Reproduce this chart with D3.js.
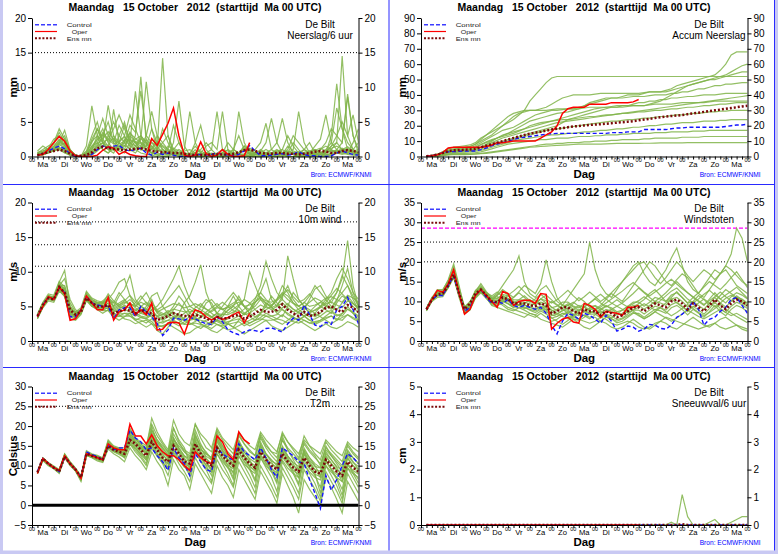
<!DOCTYPE html>
<html><head><meta charset="utf-8">
<script src="https://cdn.jsdelivr.net/npm/d3@7"></script>
<style>body{margin:0;background:#fff}svg{display:block}text{font-family:"Liberation Sans",Arial,Helvetica,sans-serif}</style>
</head><body><script>
// ---------------- DATA ----------------
// time axis: hours after start (6-hourly, 6..360)
const hours = d3.range(6, 361, 6);
const dayLabels = ["Ma","Di","Wo","Do","Vr","Za","Zo","Ma","Di","Wo","Do","Vr","Za","Zo","Ma"];
const titleText = "Maandag   15 October   2012  (starttijd  Ma 00 UTC)";

// --- Neerslag / 6 uur (mm)
const precipTicks = [0,5,10,15,20];
const precipControl = [.2,.4,.8,1.2, 1.5,1.1,.4,0, 0,0,.3,1.0, 1.5,1.3,1.5,1.6, 1.0,.8,1.0,1.2, .5,.2,.6,.3, .5,.2,0,0, .1,.2,.3,.2, .3,.5,.3,.2, .1,.3,.8,1.6, .8,.1,.1,.2, .3,.4,.2,.3, .7,.3,.1,.1, 0,0,.1,.5, .8,.5,.3,.2];
const precipOper = [.2,.3,1.0,2.0, 2.9,2.2,.8,.1, 0,0,0,.2, .9,1.4,1.2,.3, .7,.3,.1,0, 0,2.6,1.6,3.2, 4.8,7.0,3.0,.2, 0,.2,2.1,.4, 0,.2,1.0,.3, 0,0,.1,2.0];
const precipEnsMean = [.2,.4,.6,.8, 1.0,.8,.4,.1, .1,.2,.6,1.2, 1.4,1.2,1.1,1.0, .9,1.0,1.1,1.2, 1.0,.8,.7,.6, .6,.5,.5,.4, .3,.2,.2,.2, .3,.3,.3,.3, .4,.6,.9,1.0, .8,.5,.4,.4, .5,.5,.4,.4, .3,.4,.5,.7, .8,.7,.5,.5, .8,.9,.8,.6];
const precipMembers = [
 [.2,.5,1.0,1.5, 2.5,1.2,.3,0, 0,1.5,7.3,3.0, 1.0,.5,1.2,.8, .5,2.0,9.4,3.0, .8,.2,0,.5, 1.0,.3,0,0, 0,.2,.5,0, 0,0,.3,1.0, .5,0,0,.2, .3,1.0,.5,0, 0,.3,.5,2.0, 1.0,.2,0,0, 0,.5,3.0,10.5, 4.0,1.0,.5,.2],
 [.5,.8,1.2,1.8, 3.5,2.0,.5,0, 0,.5,2.0,4.0, 2.0,7.4,3.0,1.0, 2.5,1.5,3.0,11.5, 2.0,.5,1.0,14.2, 3.0,.5,0,0, .2,1.0,0,0, 0,.3,0,0, 0,.5,1.5,.3, 0,0,.2,.5, 1.0,.5,0,0, .3,1.0,.5,0, 0,.5,1.0,2.0, 14.5,3.0,1.0,.5],
 [.3,.4,.8,1.0, 2.0,3.8,1.0,.2, 0,.3,1.5,2.5, 4.0,2.0,1.0,3.0, 5.0,2.0,1.0,2.5, 10.8,4.0,1.0,.5, .2,2.0,8.0,1.5, .2,0,0,.5, 1.0,6.5,1.0,0, 0,0,0,.2, .5,.8,2.0,5.5, 2.0,.5,0,0, 0,0,.2,.5, 1.0,2.0,4.0,3.0, 2.0,8.6,3.0,1.0],
 [.3,.2,.6,1.0, 1.8,1.2,.3,0, .1,.8,3.0,5.0, 2.0,1.0,6.8,2.0, 1.0,3.5,2.0,1.0, 1.5,4.0,2.0,1.0, .5,.2,.5,1.0, 6.5,2.0,.5,0, 0,0,.5,2.0, 1.0,.5,0,0, 0,.2,.5,.3, 0,0,.5,1.0, 6.5,2.0,.5,0, 0,.2,.5,1.0, 2.0,9.0,3.0,.5],
 [.5,1.0,1.5,2.0, 4.0,2.5,1.0,.2, 0,0,.3,1.5, 3.0,5.0,2.0,4.5, 3.0,6.0,4.0,2.0, 1.0,.5,.2,0, 0,.5,1.0,.5, 0,0,.5,1.5, 2.0,1.0,6.5,1.0, 0,0,.3,.5, 1.0,2.0,4.8,1.0, .5,.2,0,0, .5,1.0,2.0,.5, 0,0,.2,.5, 1.0,.5,2.0,4.0],
 [.8,1.5,1.0,.8, 1.0,.5,.2,0, 0,.2,1.0,3.0, 5.5,3.0,2.0,1.0, 2.0,4.5,3.5,9.5, 3.0,2.0,1.0,4.0, 2.0,.5,0,0, 0,0,0,.3, .5,.3,0,0, 1.0,3.0,1.0,.3, 0,0,0,.2, .5,1.0,3.0,1.5, .5,.3,.5,1.0, .5,1.0,2.0,7.0, 4.0,2.0,1.0,.5],
 [.2,.3,.5,1.0, 2.2,3.0,.8,.1, 0,0,.2,.8, 1.5,3.0,5.0,3.0, 2.0,1.0,.5,1.5, 3.0,6.5,3.0,1.0, .5,1.0,2.0,.5, .2,0,0,0, 0,0,0,.5, 1.0,.5,.2,0, 0,0,.5,1.0, 2.0,5.5,2.0,.5, 0,0,0,.2, .3,.5,.8,.5, .3,.5,1.0,2.0],
 [.2,.4,.6,.9, 1.2,.8,.2,0, 0,.3,1.5,2.0, 3.5,2.5,4.0,6.0, 4.0,2.0,1.5,3.0, 2.0,1.0,3.0,2.0, 1.0,4.5,2.0,.5, 0,.5,1.0,2.0, 1.0,.2,0,0, 0,0,0,0, .2,.3,.2,0, 0,.5,1.0,3.0, 2.0,1.0,.5,.2, 0,.5,1.5,3.0, 5.0,3.0,6.0,2.0],
 [.3,.6,1.2,2.5, 3.0,1.5,.4,0, 0,.1,.5,1.2, 2.0,1.0,.5,2.0, 3.0,1.5,1.0,.5, .3,.2,1.0,2.0, 3.0,1.0,.5,.2, .2,2.0,4.5,1.0, .2,0,0,0, .5,6.5,2.0,.5, 0,0,0,.3, .5,.2,0,0, 0,.3,.5,.5, 1.0,1.5,1.0,.5, .5,1.0,.5,.3],
 [.3,.5,.8,1.3, 2.0,1.8,.5,.1, 0,.5,2.5,4.0, 2.5,1.5,3.0,2.0, 4.5,2.5,2.0,1.0, 2.5,1.5,.5,.3, 1.5,1.0,.3,0, 0,0,.3,.5, 0,0,0,0, 0,0,0,0, .3,.5,1.0,.5, .2,.5,.8,.5, .3,.2,.5,1.5, 2.5,6.0,2.0,1.0, .5,.3,.2,.2],
 [.4,.5,.6,.8, 1.5,2.0,.6,.1, 0,.2,.8,1.5, 2.0,1.5,1.0,1.5, 2.0,2.5,1.5,1.0, .8,.5,.3,.2, .2,.3,.5,.8, 1.0,.5,.2,0, 0,.2,.5,.3, .2,.5,1.0,.5, .3,.2,.3,.5, .8,1.0,.5,.3, .2,.3,.8,1.0, .5,.3,.2,.5, .8,1.0,.8,.5],
 [.6,.8,1.0,1.2, 1.0,.6,.2,0, 0,.4,1.0,2.0, 1.0,.5,1.5,1.0, 1.5,3.0,2.0,1.5, 1.0,2.0,1.5,.5, .3,.2,.2,.4, .5,1.5,.5,.2, .3,.5,1.0,.8, .3,.2,1.5,1.0, .5,.3,.2,.3, .5,.3,1.5,.8, .5,.2,.2,.3, .5,.8,1.5,2.0, 1.0,.5,.3,.2],
 [.3,.5,.9,1.4, 2.4,1.6,.5,.1, .1,.6,2.2,3.0, 2.0,2.5,1.8,2.2, 2.8,2.0,2.5,3.0, 2.0,1.2,.8,1.0, .6,.4,.2,.1, .2,.4,.3,.2, .4,.3,.6,.4, .2,.5,1.2,.8, .3,.4,.6,.5, .8,.6,.4,.3, .4,.6,.8,.5, .6,.8,1.2,1.5, 1.0,1.4,.8,.6],
 [.2,.3,.6,1.1, 1.8,2.6,.9,.2, 0,.3,1.2,2.4, 3.2,2.2,2.6,1.8, 2.2,3.4,2.6,2.0, 1.6,2.4,1.8,1.4, .8,.6,.4,.3, .1,.2,.4,.6, .3,.2,.1,.3, .6,.3,.2,.4, .6,.8,.4,.2, .3,.5,.7,.4, .2,.4,.6,.9, 1.2,.8,.6,.9, .7,.5,.8,1.0],
 [.4,.6,.7,.9, 1.3,.9,.3,0, 0,.2,.6,1.8, 2.6,3.6,2.4,1.4, 1.6,1.2,2.2,1.8, 1.4,1.0,2.2,1.6, 1.0,.7,.4,.2, .3,.6,.8,.4, .2,.4,.2,.1, .2,.6,.9,1.2, .8,.4,.3,.2, .4,.3,.2,.5, .7,.5,.3,.2, .4,.6,.9,.7, 1.2,.8,.5,.4],
 [.1,.3,.5,.8, 1.2,1.0,.4,.1, 0,.1,.4,.9, 1.6,1.2,.9,1.2, 1.0,.8,1.4,2.6, 1.8,1.4,1.0,.8, .6,1.2,.8,.4, .2,.1,.2,.4, .1,.2,.3,.2, .1,.2,.4,.9, .5,.2,.1,.2, .3,.2,.3,.6, .5,.3,.2,.4, .3,.2,.4,.6, .9,1.2,.7,.4]
];

// --- Accum Neerslag (mm)
const accumTicks = [0,10,20,30,40,50,60,70,80,90];
const accumControl = [.2,.5,1.2,2.5, 3,3.2,3.4,3.5, 3.5,3.6,4.5,5.5, 7,8,9,10, 11,12,12.5,13, 13.5,14,14.5,14.8, 15,15,15,15, 15,15,15,15, 15,15,15.5,15.5, 15.5,16,16,16, 17.5,17.5,17.5,17.5, 17.5,18,18.5,18.5, 19,19,19,19, 19,19,19,19.5, 20,20.5,20.5,21];
const accumOper = [.3,.5,1.2,2.5, 5.5,6,6,6, 6,6,6,6.5, 7.5,9,9,9.5, 10,10,10,10, 10,12,14,16, 20,28,31,32, 32,32,34,34, 34,34,35,35, 35,35,35.5,37];
const accumEnsMean = [.2,.5,1.2,2.2, 3.5,4,4.2,4.4, 4.6,5,6,7, 8,9,10,11, 12,13,14,14.8, 15.5,16,16.8,17.5, 18,18.5,19,19.5, 19.8,20.2,20.5,20.8, 21,21.3,21.6,22, 22.3,22.6,23,23.5, 24,24.5,25,25.5, 26,26.3,26.6,27, 27.5,28,28.5,29, 29.5,30,30.5,31, 31.5,32,32.5,33];
const accumMembers = [
 [.3,.8,1.5,3, 5,6,6.5,7, 7.5,9,12,14, 16,18,20,22, 24,27,30,36, 40,44,48,51, 52,52,52,52, 52,52,52,52, 52,52,52,52, 52,52,52,52, 52,52,52,52, 52,52,52,52, 52,52,52,52, 52,52,52,52, 52,52,52,52],
 [.2,.5,1,2, 3.5,4.5,5,5, 5.5,7,9,11, 13,15,17,18, 19,21,23,25, 27,28,29,30, 30,30.5,31,31, 32,33,34,35, 36,37,38,38, 39,40,40,40, 41,42,42,42, 43,44,46,47, 48,49,50,51, 52,53,56,60, 66,68,68,68],
 [.3,.6,1.2,2.5, 4,5,5.5,6, 6.5,8,10,12, 14,17,20,23, 26,28,29,30, 30,31,32,34, 36,38,39,40, 40,40,40,40.5, 41,41,41,41, 41,41,41,41, 41.5,42,42,42, 42,43,44,45, 46,47,48,49, 50,51,52,53, 55,57,59,60],
 [.2,.4,.8,1.5, 3,4,4.5,4.5, 5,6,8,9.5, 11,12,13.5,15, 17,19,21,23, 24,25,26,27, 28,28.5,29,30, 31,33,35,36, 37,38,38,38, 38,38.5,39,39, 39,39.5,40,40, 40,41,41,42, 42,43,44,44, 45,46,46,47, 47,47.5,48,48],
 [.2,.5,1,2, 3.5,4,4,4, 4.5,5,6,7, 8,9,10,11, 12,13,14,15, 16,17,18,19, 20,22,24,25, 26,27,28,29, 30,31,32,32, 33,33,34,35, 35,36,36,37, 37,38,38,38.5, 39,39,39.5,40, 40,40,40.5,41, 41,41,41,41],
 [.3,.8,1.5,3, 5,6,6,6, 6.5,8,11,14, 17,20,23,26, 28,29,30,30, 30,30,30,30.5, 31,31,31,31, 31,31.5,32,32, 32,32,32.5,33, 33,33,33,33, 33,33.5,34,34, 34,34,34.5,35, 35,35,35,35, 35.5,36,36,36, 36,36,36,36],
 [.1,.3,.6,1, 2,2.5,3,3, 3.2,4,5,6, 7,8,9,10, 11,12,13,14, 15,16,17,17.5, 18,18.5,19,19.5, 20,20.5,21,21.5, 22,22.5,23,23, 23.5,24,24,24.5, 25,25,25.5,26, 26,26.5,27,27, 27.5,28,28,28.5, 29,29,29.5,29.5, 30,30,30,30],
 [.2,.4,.8,1.5, 2.5,3,3,3, 3.2,3.5,4,5, 6,7,8,9, 10,11,11.5,12, 12.5,13,13.5,14, 14,14.5,15,15, 15.5,16,16,16.5, 17,17,17.5,18, 18,18.5,19,19, 19.5,20,20,20.5, 21,21,21.5,22, 22,22,22.5,23, 23,23,23.5,23.5, 24,24,24,24],
 [.1,.2,.5,1, 1.5,2,2,2, 2.2,2.5,3,4, 5,6,7,8, 8.5,9,9.5,10, 10.5,11,11,11.5, 12,12,12,12.5, 13,13,13,13.5, 13.5,14,14,14, 14.5,14.5,15,15, 15,15,15.5,15.5, 15.5,16,16,16, 16,16.5,16.5,16.5, 17,17,17,17, 17,17,17,17],
 [.1,.2,.4,.8, 1.2,1.5,1.5,1.5, 1.6,1.8,2,2.5, 3,3.5,4,4.5, 5,5.5,6,6.5, 7,7.5,8,8, 8.5,8.5,9,9, 9,9.5,9.5,10, 10,10,10.5,10.5, 11,11,11,11, 11.5,11.5,12,12, 12,12,12,12.5, 12.5,12.5,12.5,13, 13,13,13,13, 13,13,13,13],
 [.1,.2,.3,.5, 1,1.2,1.2,1.2, 1.3,1.5,1.8,2, 2.5,3,3.5,4, 4.5,5,5.5,6, 6.2,6.5,6.8,7, 7.2,7.4,7.6,7.8, 8,8,8,8, 8,8.2,8.4,8.5, 8.5,8.5,8.5,8.5, 8.6,8.6,8.7,8.8, 8.8,8.8,8.8,8.9, 9,9,9,9, 9,9,9,9, 9,9,9,9],
 [.2,.5,1,2, 3,3.5,4,4, 4.5,5,6,8, 10,12,14,15, 16,17,18,19, 20,21,22,23, 24,25,26,27, 28,29,30,31, 31.5,32,32,32, 32,32.5,33,33, 33,34,35,36, 38,40,42,44, 46,47,48,49, 50,50,51,52, 53,54,55,55],
 [.2,.4,.9,1.8, 3,3.6,3.8,3.8, 4,4.6,6,7.5, 9,10.5,12,13, 14,15,16,17, 18,19,20,21, 22,22.5,23,23.5, 24,24.5,25,25.5, 26,26.5,27,27.5, 28,28.5,29,29.5, 30,30.5,31,31.5, 32,32.5,33,33.5, 34,34.5,35,35.5, 36,36.5,37,37.5, 38,38.5,39,39.5],
 [.2,.5,1.1,2.2, 3.8,4.6,4.8,5, 5.2,6,7.5,9, 10.5,12,13,14, 15,16.5,18,20, 21,22,22.5,23, 23.5,24,24,24.5, 25,25.5,26,26, 26.5,27,27,27.5, 28,28,28.5,29, 29,29.5,30,30, 30.5,31,31,31.5, 32,32,32.5,33, 33,33.5,34,34, 34.5,35,35,35]
];

// --- 10m wind (m/s)
const windTicks = [0,5,10,15,20];
const windControl = [3.5,5.2,6.3,6.0, 7.7,7.0,3.5,3.5, 4.5,6.5,5.5,5.2, 5.0,5.0,3.2,4.5, 4.8,4.8,3.5,5.0, 4.2,3.5,2.5,0.8, 1.6,3.3,3.2,3.0, 3.4,3.2,2.8,2.5, 2.4,3.5,2.8,1.6, 1.2,0.9,1.3,1.6, 1.5,1.3,1.8,1.9, 1.6,1.3,2.5,3.3, 3.0,5.2,3.8,2.3, 2.1,2.7,2.4,4.5, 5.0,6.3,4.5,2.5];
const windOper = [3.5,5.0,6.4,6.0, 7.8,6.8,3.0,3.2, 4.5,6.5,5.5,4.5, 4.5,6.3,3.0,4.2, 4.5,5.5,3.8,4.5, 3.8,5.5,1.6,1.7, 2.6,2.7,2.6,1.0, 3.2,4.5,4.2,3.5, 3.0,3.5,3.1,3.4, 3.8,4.2,2.6,4.0];
const windEnsMean = [3.6,5.2,6.2,6.0, 7.8,7.0,4.5,3.8, 4.2,6.2,5.5,5.0, 5.0,5.2,4.0,4.3, 4.5,4.4,4.0,4.5, 4.2,4.0,3.0,3.3, 3.6,4.0,3.8,3.6, 3.6,3.8,3.5,3.3, 2.8,3.5,3.2,3.3, 3.6,3.8,3.2,3.5, 4.0,4.5,4.2,4.2, 4.5,5.3,4.5,4.0, 3.6,4.2,3.6,3.8, 4.2,4.8,5.0,4.5, 4.2,5.2,4.8,4.2];
const windMembers = [
 [3.3,5.0,6.5,6.3, 8.5,10.2,5.0,4.0, 4.5,6.8,5.8,5.5, 5.5,6.0,5.0,6.5, 7.5,9.5,6.0,5.0, 4.5,6.0,4.0,3.5, 4.0,5.0,6.5,5.5, 4.0,3.5,5.0,6.0, 5.5,4.0,3.5,4.5, 5.0,6.5,5.0,4.0, 5.5,7.0,9.0,6.0, 5.0,6.5,8.0,6.0, 5.0,4.5,6.0,7.5, 8.0,6.5,5.5,7.0, 9.0,14.5,8.0,5.0],
 [3.8,5.5,6.0,5.8, 7.5,6.5,3.5,3.2, 4.0,6.0,5.0,4.5, 4.0,4.5,3.5,3.0, 3.5,4.0,3.0,2.5, 2.0,2.5,1.5,1.0, 2.0,3.0,4.0,5.5, 6.5,8.5,11.0,7.0, 5.0,4.0,3.0,2.5, 2.0,3.0,4.0,3.5, 3.0,4.0,5.5,5.0, 4.0,3.5,5.0,7.0, 6.0,5.0,4.5,4.0, 3.5,3.0,2.5,3.0, 4.0,5.0,4.0,3.0],
 [3.5,5.2,6.3,6.0, 8.0,9.0,6.0,4.5, 4.0,6.5,5.5,5.2, 5.8,6.5,5.0,5.5, 6.0,5.0,4.5,4.0, 5.0,6.5,7.0,5.0, 4.0,3.5,3.0,2.5, 3.0,3.5,2.5,2.0, 2.5,3.0,4.0,5.0, 6.5,5.0,4.0,4.5, 6.0,8.0,11.5,9.0, 7.0,6.0,12.3,9.0, 6.0,5.0,4.0,3.5, 4.0,5.0,6.0,7.0, 9.5,8.0,6.0,4.5],
 [3.2,4.8,5.8,5.6, 7.2,6.5,3.2,3.0, 3.8,5.8,5.0,4.8, 4.5,4.8,4.0,3.8, 3.2,3.0,2.5,2.8, 3.0,2.5,2.0,2.2, 2.5,2.0,1.5,1.0, 1.2,1.8,2.2,2.0, 1.5,1.2,1.8,2.5, 2.0,1.5,1.0,1.5, 2.0,2.5,3.0,2.2, 1.8,1.5,2.0,2.5, 3.0,2.5,2.0,1.5, 2.0,2.5,2.0,1.8, 2.2,2.8,2.5,2.0],
 [3.6,5.3,6.6,6.2, 8.2,7.5,4.5,3.8, 4.5,7.0,6.0,5.5, 5.0,6.0,7.0,8.5, 9.0,6.5,5.0,6.0, 7.0,5.5,4.5,5.0, 6.0,7.0,8.0,6.5, 5.0,4.5,4.0,5.5, 6.0,5.0,4.5,5.0, 5.5,6.0,5.0,4.5, 5.0,6.0,5.5,5.0, 6.0,7.0,6.5,5.5, 5.0,5.5,6.5,8.0, 7.0,6.0,7.0,9.0, 10.5,9.0,7.0,6.0],
 [3.4,5.0,6.2,6.0, 7.6,7.0,4.0,3.5, 4.2,6.2,5.2,4.8, 4.8,5.5,4.5,4.0, 4.5,5.5,4.8,4.2, 3.8,4.5,3.5,3.0, 3.5,4.5,5.5,4.5, 3.5,3.0,3.5,4.0, 3.5,3.0,2.8,3.2, 4.0,5.0,6.0,5.5, 4.5,4.0,5.0,6.5, 5.5,4.5,4.0,3.5, 3.0,3.5,4.0,4.5, 5.0,4.5,4.0,5.5, 6.5,6.0,5.0,4.0],
 [3.7,5.4,6.4,6.1, 7.9,7.2,4.2,3.6, 4.6,6.6,5.6,5.0, 4.6,5.2,4.2,4.6, 5.2,4.6,3.8,3.4, 3.2,3.8,2.8,2.6, 3.0,2.6,2.2,2.8, 3.6,3.2,2.6,3.0, 3.4,2.8,2.4,2.6, 3.2,3.6,3.0,2.6, 3.0,3.4,4.0,3.6, 3.2,3.0,2.6,3.0, 3.4,3.0,2.6,2.4, 2.8,3.2,3.6,3.0, 3.4,3.8,3.2,2.8],
 [3.5,5.1,6.5,6.4, 8.1,8.0,5.5,4.2, 4.4,6.3,5.4,5.1, 5.3,5.8,5.5,7.0, 6.0,5.0,5.5,6.5, 5.5,4.5,5.0,6.0, 7.5,9.0,10.8,8.0, 6.0,5.0,4.5,4.0, 3.5,4.0,5.0,6.0, 7.0,6.0,5.0,4.0, 3.5,4.0,4.5,5.0, 6.0,8.0,7.0,5.5, 4.5,4.0,3.5,4.0, 5.0,6.0,5.0,4.5, 5.5,6.5,5.5,4.5],
 [3.3,5.0,6.1,5.9, 7.7,7.5,4.8,3.9, 4.1,6.1,5.3,4.9, 4.9,5.0,4.6,5.0, 5.4,6.0,5.2,4.6, 4.2,5.0,4.2,3.8, 4.4,3.8,3.4,4.0, 4.6,4.0,3.6,4.2, 4.8,5.4,4.6,4.0, 4.6,5.2,6.0,10.0, 8.0,6.0,5.0,4.5, 5.0,5.5,4.8,4.2, 4.6,5.0,5.6,6.2, 5.8,5.2,4.8,6.0, 7.0,8.0,6.5,5.0],
 [3.6,5.3,6.2,6.0, 7.8,6.8,4.2,3.4, 4.3,6.5,5.7,5.3, 5.1,4.6,3.8,3.6, 4.0,3.6,3.2,3.0, 2.6,3.2,2.4,2.0, 2.4,3.4,3.8,3.2, 2.6,2.2,1.8,2.4, 2.8,2.4,2.0,1.6, 1.8,2.2,2.6,2.2, 2.6,3.0,3.6,3.2, 2.8,2.4,3.0,3.6, 4.2,3.6,3.0,2.6, 3.0,3.6,4.2,3.6, 4.0,4.6,4.0,3.4],
 [3.9,5.6,6.8,6.6, 8.6,7.8,4.6,4.2, 4.8,7.2,6.2,5.8, 5.6,6.2,5.6,5.0, 4.6,4.2,4.0,3.6, 3.4,4.0,3.6,3.2, 3.8,4.2,3.6,3.0, 2.4,2.8,3.4,3.8, 4.4,5.0,5.6,5.0, 4.4,4.0,4.6,5.4, 6.2,7.0,6.0,5.2, 5.8,6.6,7.4,6.4, 5.6,6.0,6.8,5.8, 5.0,5.6,6.6,7.6, 6.8,6.0,5.4,4.8],
 [3.4,5.1,6.3,6.1, 7.5,6.9,3.9,3.3, 4.0,6.3,5.5,5.1, 5.4,6.8,5.8,5.2, 5.8,6.6,5.6,5.0, 5.6,5.0,4.4,4.0, 3.6,3.0,2.6,3.4, 4.0,4.8,5.4,4.6, 4.0,3.4,3.8,4.4, 5.0,4.4,3.8,4.6, 5.6,6.4,5.4,4.8, 4.2,4.8,5.4,4.6, 4.0,3.6,4.2,5.0, 5.6,5.0,4.6,5.8, 8.0,10.5,7.0,5.0],
 [3.5,5.3,6.5,6.2, 8.0,7.6,4.8,4.0, 4.4,6.4,5.6,5.4, 5.6,5.4,4.4,4.8, 5.0,4.8,4.4,5.0, 4.6,4.4,3.6,3.8, 4.2,4.6,4.4,4.2, 4.2,4.4,4.0,3.8, 3.4,4.0,3.8,3.8, 4.2,4.4,3.8,4.0, 4.6,5.2,4.8,4.8, 5.2,6.0,5.2,4.6, 4.2,4.8,4.2,4.4, 4.8,5.4,5.6,5.2, 4.8,5.8,5.4,4.8],
 [3.4,5.0,6.0,5.9, 7.4,6.6,4.2,3.6, 4.0,6.0,5.3,4.7, 4.5,4.8,3.6,3.9, 4.0,4.0,3.6,4.0, 3.7,3.5,2.5,2.8, 3.0,3.5,3.2,3.0, 3.0,3.2,3.0,2.8, 2.3,3.0,2.6,2.8, 3.0,3.2,2.6,3.0, 3.4,3.8,3.6,3.6, 3.8,4.6,3.8,3.4, 3.0,3.6,3.0,3.2, 3.6,4.2,4.4,3.8, 3.6,4.6,4.2,3.6],
 [3.7,5.5,6.4,6.3, 8.3,7.4,5.0,4.0, 4.6,6.8,6.0,5.6, 5.4,6.0,4.8,5.2, 5.6,5.4,5.0,5.6, 5.2,5.0,4.2,4.6, 5.0,5.4,5.2,4.8, 5.0,5.4,5.0,4.6, 4.2,4.8,4.6,4.8, 5.2,5.6,5.0,5.2, 5.6,6.2,5.8,5.6, 6.0,6.8,6.0,5.4, 5.0,5.6,5.0,5.2, 5.6,6.2,6.4,6.0, 5.6,6.6,6.2,5.6],
 [3.3,4.9,6.1,5.8, 7.3,6.4,3.8,3.4, 4.1,6.0,5.1,4.6, 4.4,4.4,3.4,3.6, 3.6,3.6,3.0,3.4, 3.2,2.8,2.0,2.2, 2.4,2.8,2.6,2.4, 2.4,2.6,2.4,2.2, 1.8,2.4,2.2,2.4, 2.6,2.8,2.2,2.6, 3.0,3.2,3.0,3.0, 3.2,3.8,3.2,2.8, 2.6,3.0,2.6,2.8, 3.0,3.4,3.6,3.2, 3.0,3.8,3.4,3.0]
];

// --- Windstoten (m/s)
const gustTicks = [0,5,10,15,20,25,30,35];
const gustControl = [8.0,10.5,11.5,11.5, 14.0,16.5,12.0,7.5, 8.5,11.5,13.0,11.0, 9.5,10.0,9.5,10.5, 9.0,8.5,9.0,8.5, 8.0,8.5,7.0,4.0, 1.8,5.0,7.0,6.5, 5.5,7.0,6.5,5.5, 4.5,6.5,5.0,2.5, 3.0,3.8,3.5,2.5, 3.0,4.2,4.0,3.2, 3.0,4.0,6.0,6.8, 8.0,10.0,8.0,4.0, 5.5,6.0,7.5,8.5, 10.5,11.0,9.0,7.0];
const gustOper = [8.0,10.5,12.8,12.3, 14.5,18.0,12.0,6.8, 8.0,11.5,13.0,11.5, 10.0,8.5,12.5,12.0, 9.0,10.0,10.3,10.3, 9.5,12.0,11.8,3.0, 4.5,5.5,6.0,4.8, 4.5,9.5,9.0,8.0, 6.0,7.5,7.2,7.0, 6.5,8.5,8.5,9.0];
const gustEnsMean = [8.0,10.5,11.8,12.0, 14.0,16.8,12.0,8.0, 9.5,12.0,13.0,11.5, 10.0,9.8,11.0,10.5, 9.5,9.5,9.5,9.0, 8.8,9.5,9.0,7.0, 7.5,8.5,8.5,7.5, 7.0,8.0,7.5,7.5, 6.5,7.5,7.0,6.0, 6.5,7.5,8.5,8.5, 7.5,8.5,9.5,9.0, 8.5,10.0,10.5,9.5, 8.0,9.5,8.5,7.5, 9.0,10.5,9.0,8.0, 9.5,10.5,10.0,9.0];
const gustMembers = [
 [8.2,10.8,12.5,12.8, 15.5,19.5,14.0,8.0, 9.0,12.5,14.5,12.5, 11.0,12.0,14.0,16.0, 18.0,21.5,15.0,12.0, 11.0,13.0,14.0,12.0, 10.0,9.0,11.0,13.0, 15.0,17.0,25.0,18.0, 14.0,12.0,11.0,13.0, 15.0,17.0,19.0,20.0, 17.0,15.0,14.0,16.0, 18.0,21.0,23.5,19.0, 15.0,13.0,12.0,14.0, 16.0,18.0,17.0,19.0, 22.0,28.5,26.0,20.0],
 [7.8,10.2,11.8,11.8, 14.0,17.0,11.5,7.0, 8.0,11.0,12.5,11.0, 9.0,8.5,8.0,7.5, 7.0,6.5,6.0,7.0, 6.5,5.5,5.0,4.5, 4.0,3.5,4.5,5.5, 4.5,3.5,3.0,4.0, 5.0,4.5,3.5,3.0, 3.5,4.5,5.5,4.5, 3.5,3.0,4.0,5.0, 4.5,3.5,3.0,4.0, 5.0,6.0,5.0,4.0, 3.5,4.5,5.5,6.0, 5.0,4.0,3.5,3.0],
 [8.0,10.6,12.0,12.4, 14.8,18.0,13.0,7.5, 8.6,12.0,13.5,11.8, 10.5,11.5,13.0,12.0, 11.0,12.5,14.0,13.0, 12.0,14.5,20.5,15.0, 11.0,9.0,8.0,9.5, 11.0,10.0,8.5,8.0, 9.0,10.5,12.0,11.0, 10.0,12.0,14.0,16.0, 18.0,20.0,19.0,17.0, 15.0,14.0,15.5,17.0, 16.0,14.0,12.0,11.0, 13.0,15.0,17.0,18.0, 16.0,14.0,13.0,12.0],
 [8.4,11.0,12.2,12.0, 14.2,16.5,12.5,8.5, 9.2,12.2,13.2,11.2, 10.0,9.5,10.5,11.5, 10.0,9.0,9.5,10.5, 9.0,8.0,9.0,10.0, 9.0,8.0,7.0,8.0, 9.0,8.5,7.5,7.0, 8.0,9.0,8.0,7.0, 6.5,7.5,8.5,9.5, 10.5,12.0,13.0,11.5, 10.0,11.0,12.5,11.0, 9.5,10.0,11.5,10.5, 9.0,10.0,11.5,13.0, 12.0,11.0,10.0,9.0],
 [7.6,10.0,11.0,11.2, 13.5,16.0,11.0,6.8, 7.8,10.8,12.2,10.8, 9.5,9.0,9.5,8.5, 8.0,7.5,7.0,6.5, 6.0,7.0,6.0,5.0, 5.5,6.5,7.5,6.5, 5.5,5.0,4.5,5.0, 6.0,5.5,4.5,4.0, 4.5,5.0,4.5,3.5, 3.0,3.5,4.5,5.0, 6.0,5.5,5.0,4.5, 4.0,3.5,3.0,3.5, 4.0,4.5,3.5,3.0, 3.5,4.0,3.0,2.5],
 [8.1,10.4,12.2,12.2, 14.4,17.5,12.8,8.2, 8.8,11.8,13.3,11.6, 10.4,10.8,11.6,10.6, 9.6,10.4,11.4,10.2, 9.4,10.6,9.6,8.6, 7.6,8.4,9.4,8.6, 7.8,8.6,9.6,10.6, 9.6,8.6,9.4,10.4, 9.4,8.6,9.4,10.2, 11.2,10.2,9.2,10.2, 11.4,12.6,13.4,12.0, 10.6,9.6,10.6,11.8, 12.8,11.6,10.6,11.6, 12.6,13.6,12.2,10.8],
 [7.9,10.3,11.4,11.6, 13.8,16.8,11.8,7.2, 8.2,11.2,12.8,11.4, 10.2,10.0,9.0,8.0, 7.6,8.4,7.8,7.0, 6.6,7.6,6.8,5.8, 5.0,4.2,5.2,6.2, 7.2,6.4,5.6,6.6, 7.6,6.6,5.8,6.8, 7.8,8.8,7.6,6.6, 5.6,6.4,7.4,8.4, 7.4,6.4,7.2,8.2, 9.2,8.2,7.2,6.4, 7.2,8.2,9.2,8.0, 7.0,6.2,5.4,4.6],
 [8.3,10.9,13.0,13.0, 15.2,18.8,13.5,8.6, 9.6,12.8,14.0,12.2, 11.4,12.4,11.2,10.2, 11.0,12.2,11.0,9.8, 10.6,11.8,10.6,9.6, 10.4,11.6,12.8,11.4, 10.2,11.2,12.4,11.2, 10.0,11.0,12.2,13.6, 15.0,16.5,18.0,19.5, 20.0,18.0,16.0,14.5, 16.0,18.0,20.0,18.5, 16.5,15.0,16.5,18.0, 17.0,15.5,17.0,19.0, 18.0,16.5,15.0,14.0],
 [7.7,10.1,11.6,11.9, 14.1,17.2,12.2,7.8, 8.4,11.4,12.6,11.0, 9.8,9.6,10.2,9.4, 8.6,9.2,8.6,7.8, 7.2,8.0,7.4,6.6, 6.2,7.0,6.4,5.6, 5.2,6.0,7.0,7.8, 7.0,6.2,5.6,5.0, 5.6,6.4,7.2,6.4, 5.6,6.4,7.4,6.6, 5.8,5.0,5.8,6.8, 7.8,7.0,6.2,5.6, 6.4,7.2,8.0,7.2, 6.4,7.0,6.2,5.4],
 [8.0,10.5,12.4,12.0, 14.6,17.8,12.6,8.0, 8.9,12.0,13.4,11.4, 10.6,11.2,10.4,9.4, 9.0,9.8,9.2,8.4, 8.0,8.6,8.0,7.2, 6.8,7.6,8.4,7.6, 6.8,7.4,8.2,9.0, 8.2,7.4,8.0,8.8, 8.0,7.2,7.8,8.6, 9.4,8.6,7.8,8.6, 9.6,10.6,9.6,8.6, 7.8,8.6,9.6,10.6, 9.6,8.6,9.6,10.8, 11.6,10.6,9.6,8.8],
 [8.2,10.7,11.9,12.1, 14.3,17.0,12.4,8.4, 9.4,12.4,13.6,12.0, 10.8,11.6,12.6,11.6, 12.6,13.8,12.4,11.2, 10.2,9.4,8.6,7.8, 7.0,6.2,5.6,6.6, 7.6,8.6,9.6,10.8, 11.8,10.6,9.6,8.8, 9.6,10.8,12.0,13.4, 12.2,11.0,10.0,11.0, 12.2,13.6,15.0,13.6, 12.2,11.0,12.2,13.6, 15.0,14.0,13.0,14.4, 16.0,17.5,15.5,13.5],
 [7.9,10.4,11.7,11.8, 14.0,16.4,11.6,7.4, 8.3,11.3,12.9,11.3, 10.1,10.3,9.8,10.6, 9.8,9.0,8.2,8.8, 9.6,10.6,11.6,10.4, 9.2,8.2,9.0,9.8, 8.8,7.8,7.0,7.8, 8.6,9.6,10.6,11.6, 12.6,13.8,14.8,13.6, 12.4,11.4,12.4,13.4, 14.6,15.6,14.4,13.2, 12.2,11.2,10.2,9.2, 10.2,11.2,12.4,11.2, 10.2,11.4,10.4,9.4],
 [8.1,10.6,12.0,12.1, 14.2,17.0,12.2,8.2, 9.6,12.2,13.2,11.8, 10.4,10.2,11.2,10.8, 9.8,9.8,9.8,9.4, 9.2,9.8,9.4,7.6, 8.0,9.0,9.0,8.0, 7.6,8.6,8.0,8.0, 7.0,8.0,7.6,6.6, 7.0,8.0,9.0,9.0, 8.0,9.0,10.0,9.6, 9.0,10.6,11.0,10.0, 8.6,10.0,9.0,8.0, 9.6,11.0,9.6,8.6, 10.0,11.0,10.6,9.6],
 [7.9,10.3,11.6,11.8, 13.8,16.6,11.8,7.8, 9.2,11.8,12.8,11.2, 9.6,9.4,10.6,10.0, 9.0,9.0,9.0,8.6, 8.2,8.8,8.4,6.4, 6.8,7.8,7.8,6.8, 6.4,7.4,6.8,6.8, 5.8,6.8,6.4,5.4, 5.8,6.8,7.8,7.8, 6.8,7.8,8.8,8.4, 7.8,9.2,9.8,8.8, 7.4,8.8,7.8,6.8, 8.2,9.8,8.2,7.2, 8.8,9.8,9.2,8.2],
 [8.2,10.8,12.2,12.4, 14.6,17.4,12.6,8.6, 10.0,12.6,13.6,12.2, 10.8,10.6,11.8,11.4, 10.4,10.4,10.4,10.0, 9.8,10.6,10.2,8.4, 8.8,9.8,9.8,8.8, 8.4,9.4,8.8,8.8, 7.8,8.8,8.4,7.4, 7.8,8.8,9.8,9.8, 8.8,9.8,11.0,10.6, 10.0,11.6,12.2,11.0, 9.6,11.0,10.0,9.0, 10.6,12.2,10.6,9.6, 11.2,12.2,11.6,10.6],
 [7.8,10.2,11.4,11.5, 13.5,16.2,11.5,7.5, 8.8,11.4,12.4,10.8, 9.2,9.0,10.0,9.4, 8.4,8.4,8.4,8.0, 7.6,8.2,7.8,5.8, 6.2,7.0,7.0,6.0, 5.6,6.6,6.0,6.0, 5.0,6.0,5.6,4.6, 5.0,6.0,7.0,7.0, 6.0,7.0,8.0,7.6, 7.0,8.4,9.0,8.0, 6.6,8.0,7.0,6.0, 7.4,9.0,7.4,6.4, 8.0,9.0,8.4,7.4]
];

// --- T2m (Celsius)
const t2mTicks = [-5,0,5,10,15,20,25,30];
const t2mControl = [8.5,11.8,10.5,9.5, 8.5,12.3,10.5,9.0, 7.0,13.5,12.8,12.3, 11.5,15.0,14.0,14.5, 14.5,19.0,17.0,16.0, 14.0,14.5,12.5,11.0, 8.8,14.5,12.0,10.5, 7.5,13.0,11.0,9.0, 8.5,14.5,13.0,12.0, 11.5,15.5,13.5,12.5, 11.5,14.5,12.0,9.0, 7.0,14.5,13.5,12.5, 11.0,10.5,6.5,3.0, -0.8,7.5,3.8,6.5, 10.0,13.0,12.0,10.5];
const t2mOper = [8.0,11.8,10.5,9.5, 8.8,12.5,10.5,9.0, 6.8,13.0,12.5,12.0, 11.5,15.5,14.5,14.0, 14.0,20.5,17.5,17.5, 15.5,17.8,15.0,13.5, 12.5,12.5,11.5,10.0, 8.8,13.5,12.0,11.0, 10.5,17.5,16.0,13.0, 11.5,18.5,16.5,15.5];
const t2mEnsMean = [8.3,11.8,10.5,9.5, 8.5,12.3,10.5,9.0, 7.0,13.0,12.5,12.0, 11.5,15.0,14.0,13.5, 13.0,16.5,15.5,14.0, 12.5,16.0,14.0,12.0, 11.0,15.0,13.0,11.0, 10.5,15.5,13.0,11.0, 10.0,14.5,12.5,11.0, 10.0,14.0,12.0,10.5, 9.5,13.5,11.5,10.0, 9.0,13.0,11.0,9.5, 8.5,12.0,10.0,8.5, 8.0,11.5,10.0,8.5, 7.5,11.0,9.5,8.5];
const t2mMembers = [
 [8.2,11.5,10.3,9.6, 8.6,12.8,10.8,9.2, 7.2,13.5,12.8,12.4, 11.8,16.0,14.8,14.2, 13.5,18.0,16.5,15.5, 14.5,22.0,18.5,16.0, 14.0,21.5,18.0,16.0, 15.0,20.5,18.0,16.5, 14.5,19.5,17.0,15.5, 14.0,18.5,16.5,15.0, 14.0,18.5,16.5,15.0, 13.5,18.0,16.0,14.5, 13.0,16.5,15.0,14.0, 13.0,16.5,15.0,13.5, 12.5,16.0,14.5,13.5],
 [8.0,11.3,10.0,9.2, 8.0,12.0,10.0,8.6, 6.0,12.6,12.0,11.2, 10.8,14.2,13.0,12.2, 11.0,14.5,12.5,11.0, 9.0,13.5,11.0,9.0, 5.0,11.5,9.0,7.5, 4.0,10.5,8.0,5.5, 3.0,10.0,7.0,5.0, 2.0,9.0,6.5,4.0, 1.5,8.5,6.0,3.5, 0.5,8.0,5.0,2.0, -2.0,6.5,4.0,2.0, 0.0,7.0,4.5,1.5, -2.0,6.0,3.5,1.0],
 [8.4,11.9,10.6,9.8, 8.8,12.6,10.6,9.0, 6.8,13.2,12.6,12.0, 11.2,15.5,14.2,13.8, 13.0,19.5,17.0,15.0, 13.5,20.0,16.0,14.0, 12.0,17.0,14.5,12.5, 11.0,19.0,15.5,13.0, 12.0,18.5,15.0,12.5, 10.0,15.0,12.5,11.0, 9.0,16.0,13.0,11.5, 10.0,17.5,14.0,11.5, 9.0,14.0,12.0,10.5, 9.5,15.0,12.5,10.5, 8.5,14.0,12.0,10.5],
 [8.1,11.6,10.4,9.4, 8.4,12.2,10.4,8.8, 6.6,12.8,12.2,11.8, 11.4,15.0,14.0,13.4, 12.5,17.0,15.0,13.5, 11.5,17.5,14.5,12.0, 9.5,15.5,13.0,11.0, 8.0,14.5,12.0,10.0, 7.5,14.0,11.5,9.5, 6.5,13.5,11.0,9.0, 6.0,12.5,10.5,8.5, 5.5,13.0,10.5,8.0, 5.0,12.0,9.5,7.5, 4.5,11.5,9.0,7.0, 4.0,10.5,8.5,6.5],
 [8.3,11.7,10.5,9.5, 8.7,12.4,10.6,9.1, 7.0,13.1,12.5,12.1, 11.6,15.4,14.4,14.0, 13.8,18.5,16.0,14.5, 13.0,19.0,16.5,14.5, 12.5,19.5,16.0,13.5, 12.0,17.5,15.0,13.5, 11.5,17.0,14.5,12.5, 11.0,16.0,14.0,12.5, 11.5,17.0,14.5,12.5, 11.0,16.5,14.0,12.0, 10.5,15.5,13.5,12.0, 10.5,14.5,13.0,11.5, 10.0,15.0,13.0,11.5],
 [8.0,11.4,10.2,9.3, 8.2,12.1,10.2,8.7, 6.3,12.9,12.1,11.5, 11.0,14.6,13.5,12.8, 12.0,15.5,13.5,12.0, 10.0,15.0,12.5,10.5, 7.5,13.0,10.5,8.5, 6.0,12.0,9.5,7.5, 5.5,11.5,9.0,7.0, 4.5,11.0,8.5,6.0, 3.0,10.0,7.5,5.0, 2.0,9.5,7.0,4.5, 1.5,9.0,6.5,4.0, 1.0,8.5,6.0,3.5, 0.5,8.0,5.5,3.0],
 [8.5,12.0,10.8,9.9, 9.0,13.0,11.0,9.4, 7.4,13.8,13.0,12.6, 12.0,16.5,15.0,14.5, 14.5,19.0,17.0,16.0, 15.0,20.5,17.5,15.5, 13.5,18.0,15.5,14.0, 13.0,20.5,17.0,14.5, 13.5,19.0,16.5,14.5, 13.0,17.5,15.5,14.0, 12.5,17.5,15.0,13.5, 13.0,18.5,16.0,14.0, 12.0,17.5,15.0,13.0, 11.5,16.0,14.0,12.5, 11.0,15.5,13.5,12.0],
 [8.2,11.8,10.4,9.6, 8.5,12.5,10.5,9.0, 6.9,13.0,12.4,12.0, 11.5,15.2,14.2,13.6, 13.0,16.5,14.5,13.0, 12.0,16.5,14.0,12.0, 10.5,17.0,14.0,12.0, 9.5,15.5,13.0,11.0, 9.0,16.5,13.5,11.0, 8.0,14.5,12.0,10.0, 8.5,14.0,11.5,9.5, 7.5,14.5,12.0,9.5, 7.0,13.0,11.0,9.0, 7.0,12.5,10.5,8.5, 6.0,12.0,10.0,8.0],
 [8.1,11.6,10.2,9.4, 8.3,12.3,10.3,8.8, 6.5,12.7,12.3,11.9, 11.3,14.8,13.8,13.2, 12.8,17.5,15.5,14.0, 13.0,18.5,15.5,13.0, 11.0,16.0,13.5,11.5, 9.0,16.5,13.5,11.0, 8.5,15.0,12.5,10.0, 7.0,16.0,12.5,9.5, 6.5,15.0,12.0,9.0, 6.0,14.0,11.0,8.5, 5.5,13.5,10.5,8.0, 3.0,11.5,9.0,6.5, 2.5,10.5,8.0,5.5],
 [8.4,11.9,10.7,9.7, 8.9,12.9,10.9,9.3, 7.1,13.3,12.7,12.3, 11.9,16.2,14.6,14.4, 14.0,18.8,16.8,15.5, 14.0,17.5,16.0,14.5, 13.0,16.5,15.0,13.5, 12.5,15.5,14.0,13.0, 12.0,17.5,15.0,13.5, 12.0,18.0,15.5,13.5, 12.5,18.0,15.5,13.5, 12.0,16.5,14.5,13.0, 11.5,16.0,14.0,12.5, 10.0,14.0,12.5,11.0, 9.5,13.5,12.0,10.5],
 [8.2,11.7,10.3,9.5, 8.5,12.4,10.5,9.0, 6.7,13.0,12.3,11.8, 11.4,15.3,14.0,13.5, 12.0,16.0,14.0,12.5, 10.5,16.0,13.0,11.0, 9.0,14.0,11.5,10.0, 7.5,13.5,11.0,9.0, 6.0,13.0,10.5,8.0, 5.0,12.5,10.0,7.5, 4.5,12.0,9.5,7.0, 3.5,11.0,8.5,6.0, 3.0,10.5,8.0,5.5, 2.0,10.0,7.5,5.0, 1.5,9.5,7.0,4.5],
 [8.3,11.8,10.5,9.6, 8.7,12.7,10.7,9.2, 7.0,13.4,12.6,12.2, 11.7,15.8,14.6,14.0, 13.5,17.5,16.0,15.0, 14.0,19.0,16.5,15.0, 13.5,19.5,16.5,14.5, 10.5,18.0,14.5,12.0, 10.0,17.0,14.0,11.5, 9.5,16.5,13.5,11.5, 9.0,15.5,13.0,11.0, 8.5,15.0,12.5,10.5, 8.0,14.5,12.0,10.0, 7.5,13.5,11.5,9.5, 7.0,13.0,11.0,9.0],
 [8.3,11.8,10.5,9.5, 8.6,12.4,10.6,9.1, 7.0,13.1,12.5,12.0, 11.6,15.2,14.2,13.6, 13.2,17.0,15.8,14.4, 13.0,16.8,14.6,12.6, 11.6,15.8,13.6,11.6, 11.0,16.2,13.6,11.6, 10.6,15.2,13.0,11.6, 10.6,14.8,12.6,11.0, 10.0,14.2,12.0,10.5, 9.6,13.8,11.6,10.0, 9.0,12.8,10.6,9.0, 8.6,12.2,10.6,9.0, 8.0,11.8,10.0,9.0],
 [8.2,11.7,10.4,9.4, 8.4,12.1,10.3,8.8, 6.8,12.8,12.3,11.8, 11.4,14.8,13.8,13.3, 12.6,16.0,15.0,13.5, 12.0,15.2,13.2,11.4, 10.4,14.2,12.2,10.4, 9.8,14.8,12.2,10.2, 9.2,13.8,11.8,10.2, 9.2,13.2,11.2,9.8, 8.8,12.8,10.8,9.2, 8.2,12.2,10.2,8.8, 7.8,11.2,9.2,7.8, 7.2,10.8,9.2,7.8, 6.8,10.2,8.8,7.8],
 [8.4,11.9,10.6,9.6, 8.7,12.5,10.7,9.2, 7.2,13.3,12.7,12.2, 11.7,15.4,14.4,13.8, 13.6,17.6,16.2,14.8, 13.4,17.4,15.2,13.2, 12.2,16.6,14.4,12.4, 11.8,17.0,14.4,12.4, 11.4,16.0,13.8,12.2, 11.4,15.6,13.4,11.8, 10.8,15.0,12.8,11.2, 10.4,14.6,12.4,10.8, 9.8,13.6,11.4,9.8, 9.4,13.0,11.4,9.8, 8.8,12.6,10.8,9.8],
 [8.1,11.6,10.3,9.3, 8.3,12.0,10.2,8.7, 6.6,12.6,12.1,11.6, 11.2,14.6,13.6,13.0, 12.2,15.4,14.4,12.8, 11.4,14.4,12.4,10.6, 9.6,13.4,11.4,9.6, 9.0,14.0,11.4,9.4, 8.4,13.0,11.0,9.4, 8.4,12.4,10.4,9.0, 8.0,12.0,10.0,8.4, 7.4,11.4,9.4,8.0, 7.0,10.4,8.4,7.0, 6.4,10.0,8.4,7.0, 6.0,9.4,8.0,7.0]
];

// --- Sneeuwval / 6 uur (cm)
const snowTicks = [0,1,2,3,4,5];
const snowControl = [0,0,0,0, 0,0,0,0, 0,0,0,0, 0,0,0,0, 0,0,0,0, 0,0,0,0, 0,0,0,0, 0,0,0,0, 0,0,0,0, 0,0,0,0, 0,0,0,0, 0,0,0,0, 0,0,0,0, 0,0,0,0, 0,0,0,0];
const snowOper = [0,0,0,0, 0,0,0,0, 0,0,0,0, 0,0,0,0, 0,0,0,0, 0,0,0,0, 0,0,0,0, 0,0,0,0, 0,0,0,0, 0,0,0,0];
const snowEnsMean = [0,0,0,0, 0,0,0,0, 0,0,0,0, 0,0,0,0, 0,0,0,0, 0,0,0,0, 0,0,0,0, 0,0,0,0, 0,0,0,0, 0,0,0,0, 0,0,0,0, 0,0,0,.03, 0,0,0,0, 0,0,0,0, 0,0,0,0];
const snowMembers = [
 [0,0,0,0, 0,0,0,0, 0,0,0,0, 0,0,0,0, 0,0,0,0, 0,0,0,0, 0,0,0,0, 0,0,0,0, 0,0,0,0, 0,0,0,0, 0,0,0,0, 0,.1,0,1.1, .3,0,0,0, 0,0,0,0, 0,0,0,0],
 [0,0,0,0, 0,0,0,0, 0,0,0,0, 0,0,0,0, 0,0,0,0, 0,0,0,0, 0,0,0,0, 0,0,0,0, 0,0,0,0, 0,0,0,0, 0,0,0,0, 0,0,0,0, 0,0,0,0, .1,.2,0,0, .1,.2,.3,.3],
 [0,0,0,0, 0,0,0,0, 0,0,0,0, 0,0,0,0, 0,0,0,0, 0,0,0,0, 0,0,0,0, 0,0,0,0, 0,0,0,0, 0,0,0,0, 0,0,0,0, 0,0,0,0, 0,0,0,0, 0,0,0,0, 0,0,0,0]
];

// ---------------- DRAWING ----------------
const W = 778, H = 554;
const svg = d3.select("body").append("svg").attr("width", W).attr("height", H);
svg.append("rect").attr("width", W).attr("height", H).attr("fill", "#fff");

const colX = [0, 389], rowY = [0, 184.5, 368.5];
const GREEN = "#80b449";
const FONT = '"Liberation Sans",Arial,Helvetica,sans-serif';

const panels = [
  {col:0,row:0,dom:[0,20],ticks:precipTicks,ylab:"mm",sub:"Neerslag/6 uur",mem:precipMembers,ctl:precipControl,op:precipOper,em:precipEnsMean,refs:[{v:15,t:"dot"}]},
  {col:1,row:0,dom:[0,90],ticks:accumTicks,ylab:"mm",sub:"Accum Neerslag",mem:accumMembers,ctl:accumControl,op:accumOper,em:accumEnsMean,refs:[]},
  {col:0,row:1,dom:[0,20],ticks:windTicks,ylab:"m/s",sub:"10m wind",mem:windMembers,ctl:windControl,op:windOper,em:windEnsMean,refs:[{v:10.8,t:"dot"},{v:13.9,t:"dot"},{v:17.2,t:"dot"}]},
  {col:1,row:1,dom:[0,35],ticks:gustTicks,ylab:"m/s",sub:"Windstoten",mem:gustMembers,ctl:gustControl,op:gustOper,em:gustEnsMean,refs:[{v:20,t:"dot"},{v:25,t:"dot"},{v:28.5,t:"mag"}]},
  {col:0,row:2,dom:[-5,30],ticks:t2mTicks,ylab:"Celsius",sub:"T2m",mem:t2mMembers,ctl:t2mControl,op:t2mOper,em:t2mEnsMean,refs:[{v:25,t:"dot"},{v:0,t:"thick"}]},
  {col:1,row:2,dom:[0,5],ticks:snowTicks,ylab:"cm",sub:"Sneeuwval/6 uur",mem:snowMembers,ctl:snowControl,op:snowOper,em:snowEnsMean,refs:[]}
];

panels.forEach((p, pi) => {
  const ox = colX[p.col], oy = rowY[p.row];
  const L = ox + 32, R = ox + 358.5, T = oy + 18, B = oy + 156.5;
  const x = d3.scaleLinear().domain([0, 360]).range([L, R]);
  const y = d3.scaleLinear().domain(p.dom).range([B, T]);
  const g = svg.append("g");

  // title
  g.append("text").attr("x", ox + 195).attr("y", oy + 11)
    .attr("text-anchor", "middle").attr("font-size", 10.5).attr("font-weight", "bold")
    .attr("textLength", 253).attr("lengthAdjust", "spacing")
    .style("white-space", "pre").text(titleText);

  // clip
  const cid = "clip" + pi;
  svg.append("clipPath").attr("id", cid).append("rect")
    .attr("x", L).attr("y", T - 1).attr("width", R - L).attr("height", B - T + 1.5);

  const plot = g.append("g").attr("clip-path", `url(#${cid})`);

  // reference lines
  p.refs.forEach(r => {
    const ln = plot.append("line").attr("x1", L).attr("x2", R).attr("y1", y(r.v)).attr("y2", y(r.v));
    if (r.t === "dot") ln.attr("stroke", "#000").attr("stroke-width", 1).attr("stroke-dasharray", "1,2");
    else if (r.t === "mag") ln.attr("stroke", "#ff00ff").attr("stroke-width", 1.2).attr("stroke-dasharray", "4,2");
  });

  const line = d3.line().x((d, i) => x(hours[i])).y(d => y(d));

  // members
  p.mem.forEach(m => {
    plot.append("path").attr("d", line(m)).attr("fill", "none")
      .attr("stroke", GREEN).attr("stroke-width", 1.2).attr("stroke-opacity", 0.85);
  });

  // thick zero line (T2m)
  p.refs.filter(r => r.t === "thick").forEach(r => {
    plot.append("line").attr("x1", L).attr("x2", R).attr("y1", y(r.v)).attr("y2", y(r.v))
      .attr("stroke", "#000").attr("stroke-width", 3);
  });

  // control, oper, ens mean
  plot.append("path").attr("d", line(p.ctl)).attr("fill", "none")
    .attr("stroke", "#1414ff").attr("stroke-width", 1.4).attr("stroke-dasharray", "4,2.5");
  plot.append("path").attr("d", line(p.op)).attr("fill", "none")
    .attr("stroke", "#ff0000").attr("stroke-width", 1.5);
  plot.append("path").attr("d", line(p.em)).attr("fill", "none")
    .attr("stroke", "#7a0a0a").attr("stroke-width", 2.5).attr("stroke-dasharray", "2,2");

  // axes
  const fmt = d3.format("d");
  const axL = d3.axisLeft(y).tickValues(p.ticks).tickFormat(fmt).tickSize(4).tickSizeOuter(0).tickPadding(2);
  const axR = d3.axisRight(y).tickValues(p.ticks).tickFormat(fmt).tickSize(4).tickSizeOuter(0).tickPadding(2);
  const axB = d3.axisBottom(x).tickValues(d3.range(0, 361, 6)).tickSize(3).tickSizeOuter(0).tickFormat("");
  [[axL, L, 0], [axR, R, 0], [axB, 0, B]].forEach(([ax, tx, ty]) => {
    const a = g.append("g").attr("transform", `translate(${tx},${ty})`).call(ax);
    a.selectAll("path.domain").attr("stroke", "#000").attr("stroke-width", 1);
    a.selectAll("line").attr("stroke", "#000");
    a.selectAll("text").attr("font-size", 10).attr("fill", "#000").attr("font-family", FONT);
  });

  // "00" labels & day names
  d3.range(0, 361, 24).forEach(h => {
    g.append("text").attr("x", x(h)).attr("y", B + 5.6).attr("text-anchor", "middle")
      .attr("font-size", 5.5).text("00");
  });
  dayLabels.forEach((d, i) => {
    g.append("text").attr("x", x(24 * i + 12)).attr("y", B + 10.3).attr("text-anchor", "middle")
      .attr("font-size", 7.6).text(d);
  });
  g.append("text").attr("x", (L + R) / 2).attr("y", oy + 177.8).attr("text-anchor", "middle")
    .attr("font-size", 11.5).attr("font-weight", "bold").text("Dag");
  g.append("text").attr("x", ox + 310.7).attr("y", oy + 176.5).attr("font-size", 7)
    .attr("fill", "#0000ff").attr("textLength", 61).attr("lengthAdjust", "spacingAndGlyphs")
    .text("Bron: ECMWF/KNMI");

  // y label
  g.append("text").attr("transform", `translate(${ox + 12.5},${(T + B) / 2}) rotate(-90)`)
    .attr("text-anchor", "middle").attr("dy", "0.35em").attr("font-size", 11.5).attr("font-weight", "bold")
    .text(p.ylab);

  // station / variable
  g.append("text").attr("x", ox + 320).attr("y", oy + 27.5).attr("text-anchor", "middle")
    .attr("font-size", 10).text("De Bilt");
  g.append("text").attr("x", ox + 320).attr("y", oy + 38.5).attr("text-anchor", "middle")
    .attr("font-size", 10).text(p.sub);

  // legend
  const lg = g.append("g");
  const ly = [oy + 24.7, oy + 31.5, oy + 38.3];
  lg.append("line").attr("x1", ox + 35).attr("x2", ox + 57).attr("y1", ly[0]).attr("y2", ly[0])
    .attr("stroke", "#3c3cff").attr("stroke-width", 1.5).attr("stroke-dasharray", "4,2");
  lg.append("line").attr("x1", ox + 35).attr("x2", ox + 57).attr("y1", ly[1]).attr("y2", ly[1])
    .attr("stroke", "#ff0000").attr("stroke-width", 1.2);
  lg.append("line").attr("x1", ox + 35).attr("x2", ox + 57).attr("y1", ly[2]).attr("y2", ly[2])
    .attr("stroke", "#7a0a0a").attr("stroke-width", 2).attr("stroke-dasharray", "2,1.7");
  [["Control", 66.7, 25], ["Oper", 71.7, 15.7], ["Ens mn", 66.7, 25]].forEach(([t, dx, w], i) => {
    lg.append("text").attr("x", ox + dx).attr("y", ly[i] + 2.2).attr("font-size", 6)
      .attr("textLength", w).attr("lengthAdjust", "spacingAndGlyphs")
      .attr("fill", "#222").text(t);
  });
});

// frame: panel separators and outer border
const frame = svg.append("g");
frame.append("rect").attr("x", 0).attr("y", 0).attr("width", 3).attr("height", H).attr("fill", "#c9c9f3");
frame.append("rect").attr("x", W - 3).attr("y", 0).attr("width", 3).attr("height", H).attr("fill", "#c9c9f3");
frame.append("rect").attr("x", 0).attr("y", H - 3.5).attr("width", W).attr("height", 3.5).attr("fill", "#c9c9f3");
[[389, 0, 389, 550.5], [774.5, 0, 774.5, 550.5]].forEach(([x1, y1, x2, y2]) =>
  frame.append("line").attr("x1", x1).attr("y1", y1).attr("x2", x2).attr("y2", y2).attr("stroke", "#2a2aff").attr("stroke-width", 1));
[184.5, 367.5].forEach(yy =>
  frame.append("line").attr("x1", 3).attr("x2", 774.5).attr("y1", yy).attr("y2", yy).attr("stroke", "#2a2aff").attr("stroke-width", 1));
</script></body></html>
